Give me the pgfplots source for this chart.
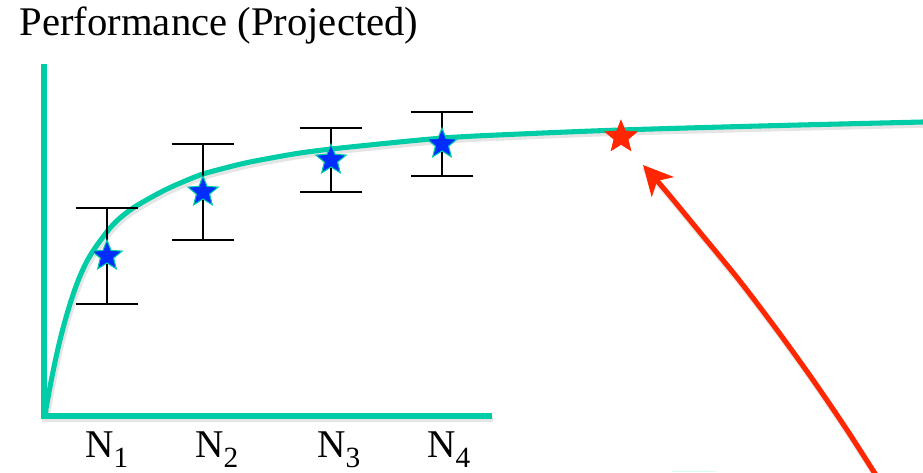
\documentclass[border=0pt]{standalone}
\usepackage{pgfplots}
\pgfplotsset{compat=1.18}
\usepackage{pgfplotstable}
\usepackage{fontspec}
\setmainfont{Liberation Serif}
\usetikzlibrary{arrows.meta}

\definecolor{curveteal}{RGB}{0,204,165}
\definecolor{starblue}{RGB}{0,45,255}
\definecolor{hotred}{RGB}{255,38,0}

% filled five-pointed star mark
\pgfdeclareplotmark{fivestar}{%
  \pgfpathmoveto{\pgfpointpolar{90}{\pgfplotmarksize}}%
  \pgfpathlineto{\pgfpointpolar{126}{0.44\pgfplotmarksize}}%
  \pgfpathlineto{\pgfpointpolar{162}{\pgfplotmarksize}}%
  \pgfpathlineto{\pgfpointpolar{198}{0.44\pgfplotmarksize}}%
  \pgfpathlineto{\pgfpointpolar{234}{\pgfplotmarksize}}%
  \pgfpathlineto{\pgfpointpolar{270}{0.44\pgfplotmarksize}}%
  \pgfpathlineto{\pgfpointpolar{306}{\pgfplotmarksize}}%
  \pgfpathlineto{\pgfpointpolar{342}{0.44\pgfplotmarksize}}%
  \pgfpathlineto{\pgfpointpolar{18}{\pgfplotmarksize}}%
  \pgfpathlineto{\pgfpointpolar{54}{0.44\pgfplotmarksize}}%
  \pgfpathclose
  \pgfusepathqfillstroke
}

% projected performance curve
\pgfplotstableread{
x y
45 58
50 85
55 110
60 132
65 151
70 168
75 183
80 196
87 211
95 224
103 235
110 244
120 254
133 264
150 274
167 283
185 291
203 298
225 304
250 310
300 319
350 325
443 334
520 338
620 342
760 346
923 350
}\curvedata

% measured points: mean and half-range
\pgfplotstableread{
x y e
107 216 48
203 280 48
331 312 32
442 328 32
}\measured

% pointer path
\pgfplotstableread{
x y
879 -8
847 42
813 92
777 142
739 192
698 242
665 282
643 307
}\pointer

\newcommand{\Nlab}[1]{N\raisebox{-7.5pt}{\fontsize{22}{22}\selectfont #1}}

\begin{document}
\begin{tikzpicture}
\begin{axis}[
  scale only axis,
  width=692.25pt, height=354pt,
  xmin=0, xmax=923, ymin=0, ymax=472,
  hide axis,
]
\addplot[draw=none, forget plot] coordinates {(0,0) (923,472)};

% soft shadows
\addplot[black, opacity=0.10, line width=5.5pt, xshift=1pt, yshift=-1.8pt] coordinates {(44,64) (44,56) (492,56)};
\addplot[black, opacity=0.10, line width=5pt, smooth, xshift=1pt, yshift=-1.8pt] table[x=x,y=y] {\curvedata};
\addplot[black, opacity=0.10, line width=5pt, smooth, xshift=1pt, yshift=-1.8pt] table[x=x,y=y] {\pointer};

% axes drawn as thick teal strokes
\addplot[curveteal, line width=4.4pt, line join=miter] coordinates {(44,408) (44,56) (492,56)};

% curve
\addplot[curveteal, line width=3.8pt, smooth] table[x=x,y=y] {\curvedata};

% error bars
\addplot[black, line width=1.1pt, only marks, mark=none,
  error bars/.cd, y dir=both, y explicit,
  error bar style={line width=1.1pt, black},
  error mark options={rotate=90, line width=1.1pt, black, mark size=23.5pt}]
  table[x=x, y=y, y error=e] {\measured};

% measured stars
\addplot[only marks, mark=fivestar, mark size=11.9pt,
  mark options={fill=starblue, draw=curveteal, line width=0.8pt}]
  table[x=x,y=y] {\measured};

% projected point
\addplot[only marks, mark=fivestar, mark size=12.6pt,
  mark options={fill=hotred, draw=hotred, line width=0.5pt}]
  coordinates {(621,335)};

% pointer arrow
\addplot[hotred, line width=3.8pt, smooth,
  -{Stealth[length=22pt, width=22pt, inset=6pt]}]
  table[x=x,y=y] {\pointer};

% faint edge at the bottom
\addplot[color={rgb,255:red,160;green,245;blue,230}, opacity=0.4, line width=1.2pt]
  coordinates {(672,0.5) (716,0.5)};

\node[anchor=base west, font=\fontsize{30.5}{30.5}\selectfont] at (axis cs:15,436) {Performance (Projected)};

\node[anchor=base west, inner sep=0pt, font=\fontsize{29.5}{29.5}\selectfont] at (axis cs:85,15) {\Nlab{1}};
\node[anchor=base west, inner sep=0pt, font=\fontsize{29.5}{29.5}\selectfont] at (axis cs:195,15) {\Nlab{2}};
\node[anchor=base west, inner sep=0pt, font=\fontsize{29.5}{29.5}\selectfont] at (axis cs:317,15) {\Nlab{3}};
\node[anchor=base west, inner sep=0pt, font=\fontsize{29.5}{29.5}\selectfont] at (axis cs:427,15) {\Nlab{4}};
\end{axis}
\end{tikzpicture}
\end{document}
